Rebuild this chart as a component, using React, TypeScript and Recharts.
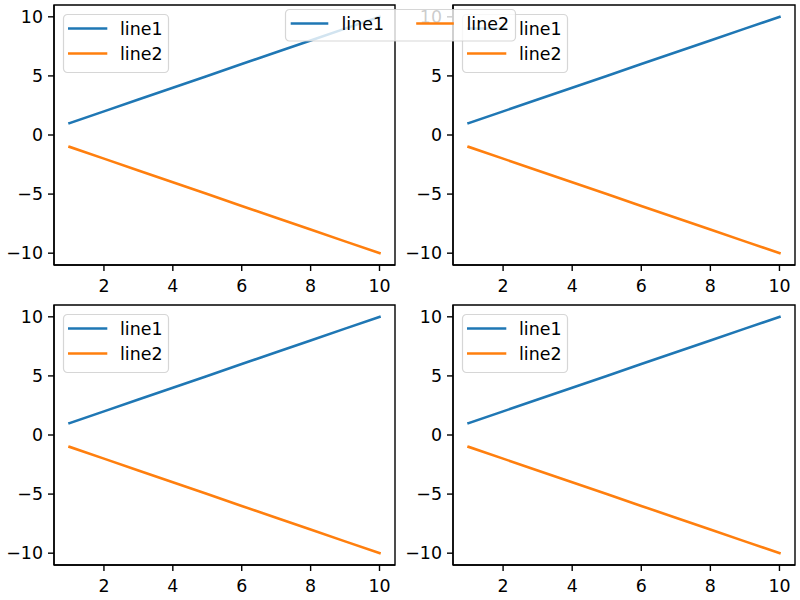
import React from 'react';
import { LineChart, Line, XAxis, YAxis, ReferenceArea, Legend } from 'recharts';

const xValues = [1, 2, 3, 4, 5, 6, 7, 8, 9, 10];
const line1Values = [1, 2, 3, 4, 5, 6, 7, 8, 9, 10];
const line2Values = [-1, -2, -3, -4, -5, -6, -7, -8, -9, -10];
const xTicks = [2, 4, 6, 8, 10];
const yTicks = [-10, -5, 0, 5, 10];
const seriesNames = ['line1', 'line2'];
const seriesColors = ['#1f77b4', '#ff7f0e'];

const data = xValues.map((x, i) => ({ x, line1: line1Values[i], line2: line2Values[i] }));

const FONT = '"DejaVu Sans", sans-serif';
const FS = 17.4;
const fmt = (v: number) => String(v).replace('-', '\u2212');

const AxesLegend = () => (
  <svg width={106} height={59} style={{ display: 'block', overflow: 'visible' }}>
    <rect x={0.5} y={0.5} width={105} height={58} rx={4} ry={4} fill="rgba(255,255,255,0.8)" stroke="rgba(204,204,204,0.8)" strokeWidth={1.2} />
    {seriesNames.map((n, i) => (
      <g key={n}>
        <line x1={6.3} x2={43} y1={14.5 + i * 25} y2={14.5 + i * 25} stroke={seriesColors[i]} strokeWidth={2.6} strokeLinecap="square" />
        <text x={57} y={21.2 + i * 25} fontFamily={FONT} fontSize={FS} fill="#000">{n}</text>
      </g>
    ))}
  </svg>
);

type PanelProps = { left: number; top: number; yWidth: number };

const Panel = ({ left, top, yWidth }: PanelProps) => (
  <div style={{ position: 'absolute', left, top, width: 400, height: 300 }}>
    <LineChart width={400} height={300} data={data} margin={{ top: 5, right: 5, left: 0, bottom: 0 }}>
      <XAxis
        type="number"
        dataKey="x"
        domain={[0.55, 10.45]}
        ticks={xTicks}
        tickFormatter={fmt}
        height={35}
        tickSize={6}
        tickMargin={9}
        axisLine={{ stroke: '#000', strokeWidth: 1.4 }}
        tickLine={{ stroke: '#000', strokeWidth: 1.4 }}
        tick={{ fill: '#000', fontSize: FS, fontFamily: FONT }}
        allowDataOverflow
      />
      <YAxis
        type="number"
        domain={[-11, 11]}
        ticks={yTicks}
        tickFormatter={fmt}
        width={yWidth}
        tickSize={6}
        tickMargin={5}
        axisLine={{ stroke: '#000', strokeWidth: 1.4 }}
        tickLine={{ stroke: '#000', strokeWidth: 1.4 }}
        tick={{ fill: '#000', fontSize: FS, fontFamily: FONT }}
        allowDataOverflow
      />
      <ReferenceArea x1={0.55} x2={10.45} y1={-11} y2={11} fill="none" stroke="#000" strokeWidth={1.4} fillOpacity={0} />
      {seriesNames.map((n, i) => (
        <Line
          key={n}
          type="linear"
          dataKey={n}
          name={n}
          stroke={seriesColors[i]}
          strokeWidth={2.6}
          strokeLinecap="square"
          strokeLinejoin="round"
          dot={false}
          activeDot={false}
          isAnimationActive={false}
        />
      ))}
      <Legend
        layout="horizontal"
        verticalAlign="middle"
        align="center"
        content={() => <AxesLegend />}
        wrapperStyle={{ position: 'absolute', left: yWidth + 8.5, top: 14, width: 106, height: 59 }}
      />
    </LineChart>
  </div>
);

const FigLegend = () => (
  <div style={{ position: 'absolute', left: 285, top: 8.5, zIndex: 10 }}>
    <svg width={231} height={33} style={{ display: 'block', overflow: 'visible' }}>
      <rect x={0.5} y={0.5} width={230} height={31.5} rx={4} ry={4} fill="rgba(255,255,255,0.8)" stroke="rgba(204,204,204,0.8)" strokeWidth={1.2} />
      {seriesNames.map((n, i) => (
        <g key={n}>
          <line x1={7 + i * 125.5} x2={42 + i * 125.5} y1={14.5} y2={14.5} stroke={seriesColors[i]} strokeWidth={2.6} strokeLinecap="square" />
          <text x={56.5 + i * 125} y={21.2} fontFamily={FONT} fontSize={FS} fill="#000">{n}</text>
        </g>
      ))}
    </svg>
  </div>
);

export default function App() {
  return (
    <div style={{ position: 'absolute', left: 0, top: 0, width: 800, height: 600, background: '#fff', overflow: 'hidden' }}>
      <Panel left={0} top={0} yWidth={54} />
      <Panel left={400} top={0} yWidth={53} />
      <Panel left={0} top={300} yWidth={54} />
      <Panel left={400} top={300} yWidth={53} />
      <FigLegend />
    </div>
  );
}
